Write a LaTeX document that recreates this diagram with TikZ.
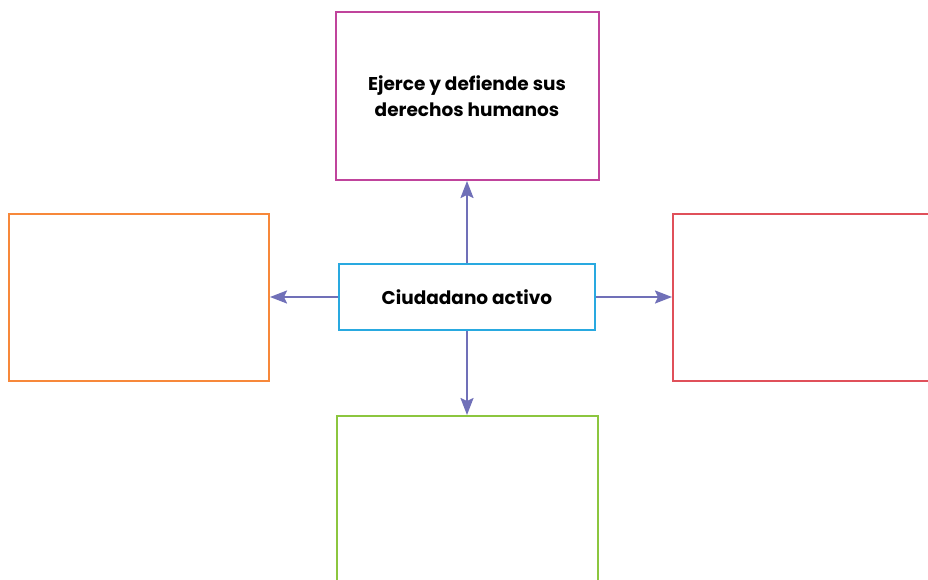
\documentclass[tikz,border=0pt]{standalone}
\usepackage{fontspec}
\setmainfont{Poppins}
\usepackage{xcolor}
\usepackage{tikz}
\usetikzlibrary{arrows.meta,positioning}
\definecolor{boxmagenta}{HTML}{C0449C}
\definecolor{boxcyan}{HTML}{29A9E0}
\definecolor{boxorange}{HTML}{F7883A}
\definecolor{boxred}{HTML}{E0505A}
\definecolor{boxgreen}{HTML}{8CC63F}
\definecolor{linkblue}{HTML}{7070B8}
\tikzset{
    card/.style={
        rectangle,
        line width=2pt,
        fill=white,
        minimum width=263pt,
        minimum height=168pt,
        align=center,
        font=\bfseries\fontsize{18.5}{26}\selectfont,
    },
    hub/.style={
        rectangle,
        line width=2pt,
        draw=boxcyan,
        minimum width=256pt,
        minimum height=66pt,
        font=\bfseries\fontsize{18.5}{22}\selectfont,
    },
    link/.style={
        line width=2pt,
        draw=linkblue,
        fill=linkblue,
        arrows={-Stealth[length=17pt,width=13pt,inset=3pt]},
    },
}
\begin{document}
\begin{tikzpicture}[
    x=1pt,
    y=-1pt,
    on grid]

\useasboundingbox (0,0) rectangle (928,579);
\clip (0,0) rectangle (928,579);

% centre
\node [hub] (central) at (467,297) {Ciudadano activo};

% cards round the centre
\node [card, draw=boxmagenta, above=201pt of central] (top_card)
{
    Ejerce y defiende sus \\
    derechos humanos
};
\node [card, draw=boxorange, minimum width=260pt, minimum height=167pt,
    left=328pt of central] (left_card) {};
\node [card, draw=boxred, minimum width=260pt, minimum height=167pt,
    right=336pt of central] (right_card) {};
\node [card, draw=boxgreen, minimum width=261pt,
    below=203pt of central] (bottom_card) {};

% links
\draw [link] (central) -- (top_card);
\draw [link] (central) -- (left_card);
\draw [link] (central) -- (right_card);
\draw [link] (central) -- (bottom_card);

\end{tikzpicture}
\end{document}
